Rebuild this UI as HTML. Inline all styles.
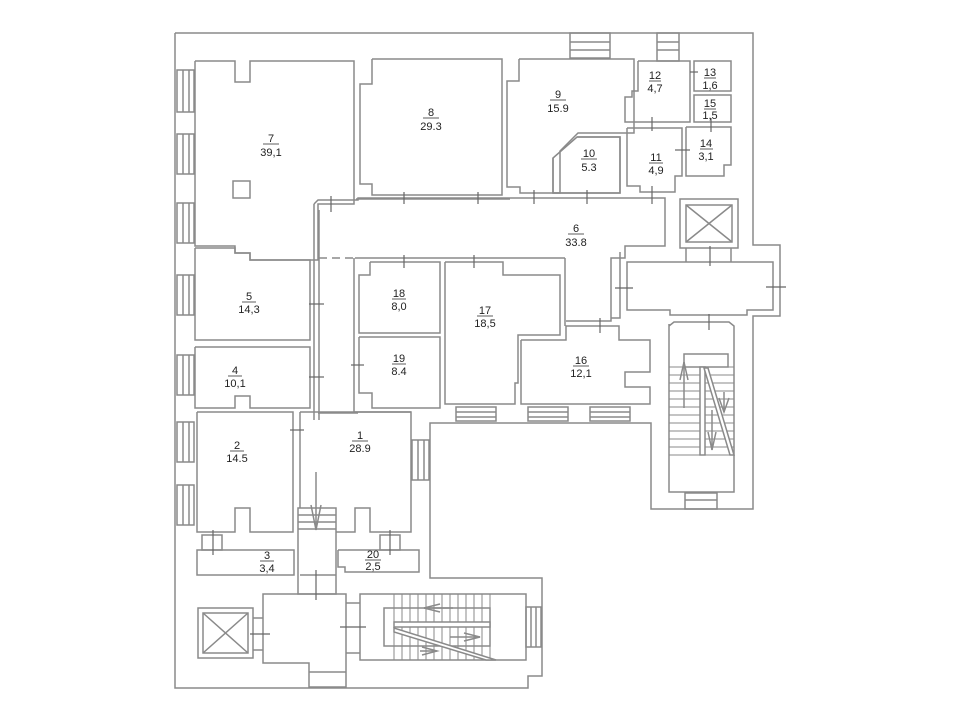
<!DOCTYPE html>
<html><head><meta charset="utf-8"><style>
html,body{margin:0;padding:0;background:#fff;}
svg{display:block}
text{font-family:"Liberation Sans",sans-serif;font-size:11px;fill:#222;text-anchor:middle}
</style></head><body>
<svg width="960" height="720" viewBox="0 0 960 720" xmlns="http://www.w3.org/2000/svg">
<g fill="none" stroke="#8a8a8a" stroke-width="1.5">
<!-- outer boundary -->
<polyline points="175,33 753,33 753,245 780,245 780,316 753,316 753,509 651,509 651,423 430,423 430,578 542,578 542,676 528,676 528,688 175,688 175,33"/>
<!-- top stairs -->
<rect x="570" y="33" width="40" height="25"/><line x1="570" y1="42" x2="610" y2="42"/><line x1="570" y1="50" x2="610" y2="50"/>
<rect x="657" y="33" width="22" height="28"/><line x1="657" y1="42" x2="679" y2="42"/><line x1="657" y1="50" x2="679" y2="50"/>
<!-- left windows -->
<g>
<rect x="177" y="70" width="17" height="42"/><line x1="183" y1="70" x2="183" y2="112"/><line x1="189" y1="70" x2="189" y2="112"/>
<rect x="177" y="134" width="17" height="40"/><line x1="183" y1="134" x2="183" y2="174"/><line x1="189" y1="134" x2="189" y2="174"/>
<rect x="177" y="203" width="17" height="40"/><line x1="183" y1="203" x2="183" y2="243"/><line x1="189" y1="203" x2="189" y2="243"/>
<rect x="177" y="275" width="17" height="40"/><line x1="183" y1="275" x2="183" y2="315"/><line x1="189" y1="275" x2="189" y2="315"/>
<rect x="177" y="355" width="17" height="40"/><line x1="183" y1="355" x2="183" y2="395"/><line x1="189" y1="355" x2="189" y2="395"/>
<rect x="177" y="422" width="17" height="40"/><line x1="183" y1="422" x2="183" y2="462"/><line x1="189" y1="422" x2="189" y2="462"/>
<rect x="177" y="485" width="17" height="40"/><line x1="183" y1="485" x2="183" y2="525"/><line x1="189" y1="485" x2="189" y2="525"/>
</g>
<!-- room 7 -->
<polyline points="195,61 235,61 235,82 250,82 250,61 354,61 354,204 318,204 318,260 250,260 250,253 235,253 235,246 195,246 195,61"/>
<rect x="233" y="181" width="17" height="17"/>
<!-- room 8 -->
<polyline points="372,59 502,59 502,195 372,195 372,184 360,184 360,84 372,84 372,59"/>
<line x1="356" y1="199" x2="510" y2="199"/>
<!-- corridor walls 6 -->
<polyline points="314,204 318,200 358,200 358,198 665,198 665,246 625,246 625,258 611,258 611,321 566,321"/>
<line x1="314" y1="204" x2="314" y2="420"/>
<line x1="319" y1="210" x2="319" y2="420"/>
<line x1="319" y1="258" x2="355" y2="258" stroke-dasharray="8,5"/>
<line x1="355" y1="258" x2="565" y2="258"/>
<!-- room 9 -->
<polyline points="519,59 634,59 634,133 578,133 560,151 560,193 520,193 520,187 507,187 507,81 519,81 519,59"/>
<!-- room 10 -->
<polyline points="577,137 620,137 620,193 553,193 553,158 Z"/>
<polygon points="577,137 620,137 620,193 553,193 553,158"/>
<!-- 12 13 15 14 11 -->
<polyline points="638,61 690,61 690,122 625,122 625,97 632,97 632,91 638,91 638,61"/>
<rect x="694" y="61" width="37" height="30"/>
<rect x="694" y="95" width="37" height="27"/>
<polyline points="686,127 731,127 731,165 724,165 724,176 686,176 686,127"/>
<polyline points="627,128 682,128 682,176 675,176 675,192 640,192 640,186 627,186 627,128"/>
<!-- top right elevator -->
<rect x="680" y="199" width="58" height="49"/>
<rect x="686" y="205" width="46" height="37"/>
<line x1="686" y1="205" x2="732" y2="242"/><line x1="732" y1="205" x2="686" y2="242"/>
<line x1="686" y1="248" x2="686" y2="262"/><line x1="731" y1="248" x2="731" y2="262"/>
<!-- right hall -->
<polygon points="627,262 773,262 773,310 747,310 747,315 670,315 670,310 627,310"/>
<polyline points="620,252 620,318 611,318"/>
<!-- right stair -->
<polyline points="669,324 669,492 734,492 734,326 729,322 674,322 669,326"/>
<rect x="685" y="493" width="32" height="16"/>
<line x1="685" y1="500" x2="717" y2="500"/>
<rect x="684" y="354" width="44" height="13"/>
<g stroke-width="1">
<line x1="669" y1="367" x2="734" y2="367"/><line x1="669" y1="375" x2="734" y2="375"/>
<line x1="669" y1="383" x2="734" y2="383"/><line x1="669" y1="391" x2="734" y2="391"/>
<line x1="669" y1="399" x2="734" y2="399"/><line x1="669" y1="407" x2="734" y2="407"/>
<line x1="669" y1="415" x2="734" y2="415"/><line x1="669" y1="423" x2="734" y2="423"/>
<line x1="669" y1="431" x2="734" y2="431"/><line x1="669" y1="439" x2="734" y2="439"/>
<line x1="669" y1="447" x2="734" y2="447"/><line x1="669" y1="455" x2="734" y2="455"/>
</g>
<rect x="700" y="367" width="5" height="88" fill="#fff"/>
<polygon points="704,368 708,368 734,455 730,455" fill="#fff"/>
<line x1="684" y1="408" x2="684" y2="362"/><polyline points="680,380 684,362 688,380"/>
<line x1="724" y1="392" x2="724" y2="412"/><polyline points="719,398 724,412 729,398"/>
<line x1="712" y1="410" x2="712" y2="450"/><polyline points="708,432 712,450 716,432"/>
<!-- room 5, 4 -->
<polyline points="195,248 235,248 235,253 250,253 250,260 310,260 310,340 195,340 195,248"/>
<polyline points="195,347 310,347 310,408 250,408 250,396 235,396 235,408 195,408 195,347"/>
<line x1="318" y1="413" x2="358" y2="413"/>
<!-- 18, 19 -->
<polyline points="370,262 440,262 440,333 359,333 359,275 370,275 370,262"/>
<polyline points="359,337 440,337 440,408 372,408 372,393 359,393 359,337"/>
<polyline points="354,258 354,412 411,412"/>
<!-- 17 -->
<polyline points="445,262 503,262 503,275 560,275 560,335 518,335 518,383 515,383 515,404 445,404 445,262"/>
<line x1="565" y1="258" x2="565" y2="326"/>
<!-- 16 -->
<polyline points="521,340 566,340 566,326 619,326 619,340 650,340 650,372 625,372 625,387 650,387 650,404 521,404 521,340"/>
<!-- windows below 16/17 -->
<rect x="456" y="407" width="40" height="14"/><line x1="456" y1="412" x2="496" y2="412"/><line x1="456" y1="417" x2="496" y2="417"/>
<rect x="528" y="407" width="40" height="14"/><line x1="528" y1="412" x2="568" y2="412"/><line x1="528" y1="417" x2="568" y2="417"/>
<rect x="590" y="407" width="40" height="14"/><line x1="590" y1="412" x2="630" y2="412"/><line x1="590" y1="417" x2="630" y2="417"/>
<rect x="412" y="440" width="17" height="40"/><line x1="418" y1="440" x2="418" y2="480"/><line x1="424" y1="440" x2="424" y2="480"/>
<!-- room 2 -->
<polyline points="197,412 293,412 293,532 250,532 250,508 235,508 235,532 197,532 197,412"/>
<!-- room 1 -->
<polyline points="300,412 411,412 411,532 370,532 370,508 355,508 355,532 336,532"/>
<line x1="300" y1="412" x2="300" y2="508"/>
<!-- corridor 1 down -->
<rect x="298" y="508" width="38" height="86"/>
<line x1="298" y1="515" x2="336" y2="515"/><line x1="298" y1="522" x2="336" y2="522"/><line x1="298" y1="529" x2="336" y2="529"/>
<line x1="316" y1="472" x2="316" y2="530"/><polyline points="311,505 316,530 321,505"/>
<line x1="300" y1="575" x2="336" y2="575"/>
<!-- 3, 20 -->
<rect x="197" y="550" width="97" height="25"/>
<rect x="202" y="535" width="20" height="15"/>
<polyline points="338,550 419,550 419,572 345,572 345,567 338,567 338,550"/>
<rect x="380" y="535" width="20" height="15"/>
<!-- bottom elevator -->
<rect x="198" y="608" width="55" height="50"/>
<rect x="203" y="613" width="45" height="40"/>
<line x1="203" y1="613" x2="248" y2="653"/><line x1="248" y1="613" x2="203" y2="653"/>
<line x1="253" y1="618" x2="263" y2="618"/><line x1="253" y1="650" x2="263" y2="650"/>
<!-- lobby -->
<polygon points="263,594 346,594 346,687 309,687 309,663 263,663"/>
<line x1="309" y1="672" x2="346" y2="672"/>
<line x1="346" y1="603" x2="360" y2="603"/><line x1="346" y1="653" x2="360" y2="653"/>
<!-- bottom stair -->
<rect x="360" y="594" width="166" height="66"/>
<rect x="384" y="608" width="106" height="38"/>
<g stroke-width="1">
<line x1="394" y1="594" x2="394" y2="660"/><line x1="402" y1="594" x2="402" y2="660"/>
<line x1="410" y1="594" x2="410" y2="660"/><line x1="418" y1="594" x2="418" y2="660"/>
<line x1="426" y1="594" x2="426" y2="660"/><line x1="434" y1="594" x2="434" y2="660"/>
<line x1="442" y1="594" x2="442" y2="660"/><line x1="450" y1="594" x2="450" y2="660"/>
<line x1="458" y1="594" x2="458" y2="660"/><line x1="466" y1="594" x2="466" y2="660"/>
<line x1="474" y1="594" x2="474" y2="660"/><line x1="482" y1="594" x2="482" y2="660"/>
<line x1="490" y1="594" x2="490" y2="660"/>
</g>
<rect x="394" y="622" width="96" height="5" fill="#fff"/>
<polygon points="394,628 394,632 486,660 496,660" fill="#fff"/>
<line x1="453" y1="608" x2="424" y2="608"/><polyline points="440,604 424,608 440,612"/>
<line x1="450" y1="637" x2="480" y2="637"/><polyline points="464,633 480,637 464,641"/>
<line x1="420" y1="651" x2="437" y2="651"/><polyline points="422,647 437,651 422,655"/>
<rect x="526" y="607" width="15" height="40"/><line x1="531" y1="607" x2="531" y2="647"/><line x1="536" y1="607" x2="536" y2="647"/>
</g>
<!-- door ticks -->
<g stroke="#666" stroke-width="1.2">
<line x1="331" y1="196" x2="331" y2="212"/><line x1="404" y1="192" x2="404" y2="204"/><line x1="478" y1="192" x2="478" y2="204"/>
<line x1="534" y1="190" x2="534" y2="204"/><line x1="587" y1="190" x2="587" y2="204"/><line x1="652" y1="186" x2="652" y2="204"/>
<line x1="652" y1="117" x2="652" y2="131"/><line x1="711" y1="118" x2="711" y2="132"/><line x1="675" y1="150" x2="690" y2="150"/>
<line x1="690" y1="72" x2="698" y2="72"/><line x1="710" y1="246" x2="710" y2="266"/>
<line x1="615" y1="288" x2="633" y2="288"/><line x1="766" y1="287" x2="786" y2="287"/><line x1="600" y1="318" x2="600" y2="333"/>
<line x1="709" y1="314" x2="709" y2="330"/><line x1="309" y1="304" x2="324" y2="304"/><line x1="309" y1="377" x2="324" y2="377"/>
<line x1="351" y1="365" x2="364" y2="365"/><line x1="404" y1="255" x2="404" y2="268"/><line x1="474" y1="255" x2="474" y2="268"/>
<line x1="290" y1="430" x2="304" y2="430"/><line x1="213" y1="530" x2="213" y2="555"/><line x1="390" y1="530" x2="390" y2="555"/>
<line x1="316" y1="570" x2="316" y2="600"/><line x1="250" y1="634" x2="270" y2="634"/><line x1="340" y1="627" x2="366" y2="627"/>
</g>
<!-- labels -->
<g stroke="#333" stroke-width="0.8">
<line x1="263" y1="144" x2="279" y2="144"/><line x1="423" y1="118" x2="439" y2="118"/><line x1="550" y1="100" x2="566" y2="100"/>
<line x1="581" y1="159" x2="597" y2="159"/><line x1="649" y1="81" x2="661" y2="81"/><line x1="704" y1="78" x2="716" y2="78"/>
<line x1="704" y1="109" x2="716" y2="109"/><line x1="700" y1="149" x2="713" y2="149"/><line x1="649" y1="163" x2="663" y2="163"/>
<line x1="568" y1="234" x2="584" y2="234"/><line x1="242" y1="302" x2="256" y2="302"/><line x1="392" y1="299" x2="406" y2="299"/>
<line x1="477" y1="316" x2="493" y2="316"/><line x1="392" y1="364" x2="406" y2="364"/><line x1="573" y1="366" x2="589" y2="366"/>
<line x1="228" y1="376" x2="242" y2="376"/><line x1="230" y1="451" x2="244" y2="451"/><line x1="352" y1="441" x2="368" y2="441"/>
<line x1="260" y1="561" x2="274" y2="561"/><line x1="365" y1="560" x2="381" y2="560"/>
</g>
<text x="271" y="142">7</text><text x="271" y="156">39,1</text>
<text x="431" y="116">8</text><text x="431" y="130">29.3</text>
<text x="558" y="98">9</text><text x="558" y="112">15.9</text>
<text x="589" y="157">10</text><text x="589" y="171">5.3</text>
<text x="655" y="79">12</text><text x="655" y="92">4,7</text>
<text x="710" y="76">13</text><text x="710" y="89">1,6</text>
<text x="710" y="107">15</text><text x="710" y="119">1,5</text>
<text x="706" y="147">14</text><text x="706" y="160">3,1</text>
<text x="656" y="161">11</text><text x="656" y="174">4,9</text>
<text x="576" y="232">6</text><text x="576" y="246">33.8</text>
<text x="249" y="300">5</text><text x="249" y="313">14,3</text>
<text x="399" y="297">18</text><text x="399" y="310">8,0</text>
<text x="485" y="314">17</text><text x="485" y="327">18,5</text>
<text x="399" y="362">19</text><text x="399" y="375">8.4</text>
<text x="581" y="364">16</text><text x="581" y="377">12,1</text>
<text x="235" y="374">4</text><text x="235" y="387">10,1</text>
<text x="237" y="449">2</text><text x="237" y="462">14.5</text>
<text x="360" y="439">1</text><text x="360" y="452">28.9</text>
<text x="267" y="559">3</text><text x="267" y="572">3,4</text>
<text x="373" y="558">20</text><text x="373" y="570">2,5</text>
</svg>
</body></html>
